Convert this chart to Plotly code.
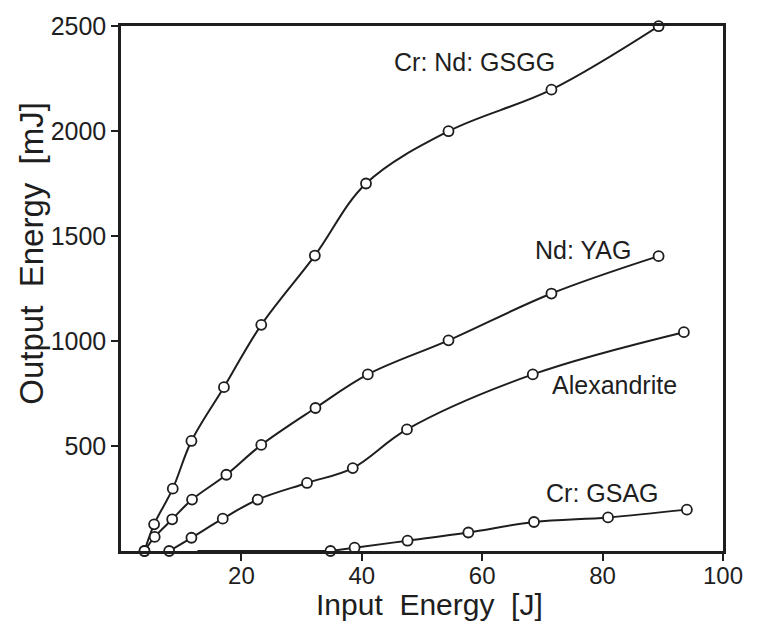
import plotly.graph_objects as go

# Data
gsgg_x = [3.9, 5.5, 8.6, 11.7, 17.1, 23.3, 32.2, 40.7, 54.4, 71.5, 89.3]
gsgg_y = [0, 127, 297, 524, 780, 1077, 1407, 1750, 1999, 2197, 2499]

yag_x = [3.9, 5.6, 8.5, 11.8, 17.5, 23.3, 32.3, 41.0, 54.4, 71.5, 89.3]
yag_y = [0, 67, 151, 245, 363, 505, 681, 841, 1003, 1226, 1404]

alex_x = [8.0, 11.7, 16.9, 22.7, 30.9, 38.5, 47.5, 68.4, 93.5]
alex_y = [0, 63, 154, 245, 324, 395, 579, 841, 1042]

# first point is the unmarked start of the baseline run along the axis
gsag_x = [12.7, 34.8, 38.8, 47.6, 57.7, 68.6, 80.9, 94.0]
gsag_y = [0, 0, 16, 49, 88, 138, 160, 197]

labels = ["Cr: Nd: GSGG", "Nd: YAG", "Alexandrite", "Cr: GSAG"]
label_x = [58.7, 76.8, 82.0, 79.9]
label_y = [2330, 1434, 791, 275]

x_ticks = [20, 40, 60, 80, 100]
y_ticks = [500, 1000, 1500, 2000, 2500]

INK = "#1e1e1e"
FONT = "Liberation Sans, Arial, Helvetica, sans-serif"

fig = go.Figure()

def add_series(xs, ys, mode="lines+markers"):
    fig.add_trace(go.Scatter(
        x=xs, y=ys, mode=mode,
        line=dict(color=INK, width=2, shape="spline", smoothing=1.0),
        marker=dict(symbol="circle", size=10, color="white",
                    line=dict(color=INK, width=1.8)),
        showlegend=False, cliponaxis=False,
    ))

add_series(gsgg_x, gsgg_y)
add_series(yag_x, yag_y)
add_series(alex_x, alex_y)
add_series(gsag_x[:2], gsag_y[:2], mode="lines")
add_series(gsag_x[1:], gsag_y[1:])

for t, lx, ly in zip(labels, label_x, label_y):
    fig.add_annotation(x=lx, y=ly, text=t, showarrow=False,
                       font=dict(family=FONT, size=25, color=INK),
                       xanchor="center", yanchor="middle")

fig.add_annotation(xref="paper", yref="paper", x=-0.148, y=0.568,
                   text="Output  Energy  [mJ]", textangle=-90, showarrow=False,
                   font=dict(family=FONT, size=33, color=INK),
                   xanchor="center", yanchor="middle")
fig.add_annotation(xref="paper", yref="paper", x=0.513, y=-0.102,
                   text="Input  Energy  [J]", showarrow=False,
                   font=dict(family=FONT, size=30, color=INK),
                   xanchor="center", yanchor="middle")

fig.update_xaxes(
    range=[0, 100], tickvals=x_ticks, ticktext=[str(v) for v in x_ticks],
    ticks="outside", ticklen=7, tickwidth=2, tickcolor=INK,
    showline=True, linecolor=INK, linewidth=2.5, mirror=True,
    showgrid=False, zeroline=False, ticklabelstandoff=-6,
    tickfont=dict(family=FONT, size=24, color=INK),
)
fig.update_yaxes(
    range=[0, 2500], tickvals=y_ticks, ticktext=[str(v) for v in y_ticks],
    ticks="outside", ticklen=7, tickwidth=2, tickcolor=INK,
    showline=True, linecolor=INK, linewidth=2.5, mirror=True,
    showgrid=False, zeroline=False,
    tickfont=dict(family=FONT, size=25, color=INK),
)

fig.update_layout(
    width=758, height=625,
    margin=dict(l=121, r=35, t=21, b=74),
    plot_bgcolor="white", paper_bgcolor="white",
)

fig.write_html("out.html")
